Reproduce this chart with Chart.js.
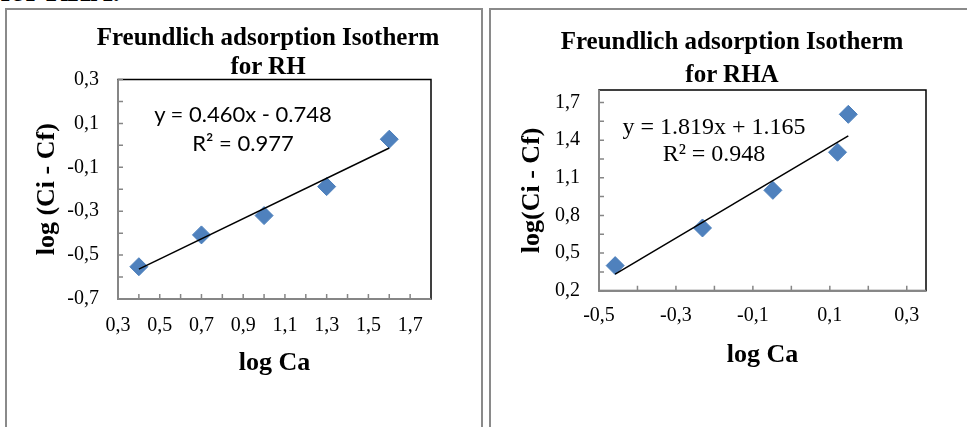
<!DOCTYPE html>
<html><head><meta charset="utf-8">
<script src="https://cdn.jsdelivr.net/npm/chart.js@4.4.1/dist/chart.umd.min.js"></script>
<style>
html,body{margin:0;padding:0;background:#fff;width:967px;height:427px;overflow:hidden;position:relative;}
.panel{position:absolute;border:2px solid #8a8a8a;box-sizing:border-box;}
.title{position:absolute;font-family:"Liberation Serif","Times New Roman",serif;font-weight:bold;font-size:25px;text-align:center;white-space:nowrap;color:#000;}
.eq{position:absolute;text-align:center;white-space:nowrap;color:#000;}
canvas{position:absolute;}
</style></head><body>
<div class="title" style="left:-60px;top:-24px;width:180px;text-align:right;font-size:30px;line-height:30px;">for RHA.</div>
<div class="panel" style="left:5px;top:8px;width:478px;height:440px;"></div>
<div class="panel" style="left:489px;top:8px;width:500px;height:440px;"></div>
<canvas id="c1" width="473" height="417" style="left:8px;top:10px;"></canvas>
<canvas id="c2" width="476" height="417" style="left:491px;top:10px;"></canvas>
<div class="title" style="left:68px;top:22px;width:400px;line-height:29px;">Freundlich adsorption Isotherm<br>for RH</div>
<div class="title" style="left:532px;top:24px;width:400px;line-height:33px;">Freundlich adsorption Isotherm<br>for RHA</div>
<div class="eq" style="left:93px;top:99px;width:300px;font-family:Lato,sans-serif;font-size:22px;line-height:29px;">y = 0.460x - 0.748<br>R² = 0.977</div>
<div class="eq" style="left:564px;top:113px;width:300px;font-family:'Liberation Serif',serif;font-size:24px;line-height:27px;">y = 1.819x + 1.165<br>R² = 0.948</div>
<script>
// ---- RH panel data ----
const rhLogCa = [0.4, 0.7, 1.0, 1.3, 1.6];
const rhLogCiCf = [-0.553, -0.408, -0.32, -0.188, 0.028];
const rhTrendX = [0.4, 1.6];
const rhTrendY = [-0.564, -0.012];
const rhXTicks = [0.3, 0.5, 0.7, 0.9, 1.1, 1.3, 1.5, 1.7];
const rhXTickLabels = ['0,3', '0,5', '0,7', '0,9', '1,1', '1,3', '1,5', '1,7'];
const rhXMinorTicks = [0.4, 0.6, 0.8, 1.0, 1.2, 1.4, 1.6];
const rhYTicks = [-0.7, -0.5, -0.3, -0.1, 0.1, 0.3];
const rhYTickLabels = ['-0,7', '-0,5', '-0,3', '-0,1', '0,1', '0,3'];
const rhYMinorTicks = [-0.6, -0.4, -0.2, 0.0, 0.2];

// ---- RHA panel data ----
const rhaLogCa = [-0.458, -0.231, -0.048, 0.12, 0.148];
const rhaLogCiCf = [0.4, 0.7, 1.0, 1.304, 1.606];
const rhaTrendX = [-0.458, 0.148];
const rhaTrendY = [0.332, 1.434];
const rhaXTicks = [-0.5, -0.3, -0.1, 0.1, 0.3];
const rhaXTickLabels = ['-0,5', '-0,3', '-0,1', '0,1', '0,3'];
const rhaXMinorTicks = [-0.4, -0.2, 0.0, 0.2];
const rhaYTicks = [0.2, 0.5, 0.8, 1.1, 1.4, 1.7];
const rhaYTickLabels = ['0,2', '0,5', '0,8', '1,1', '1,4', '1,7'];
const rhaYMinorTicks = [0.35, 0.65, 0.95, 1.25, 1.55];

Chart.defaults.font.family = "'Liberation Serif', 'Times New Roman', serif";
Chart.defaults.color = '#000';

const framePlugin = {
  id: 'frame',
  beforeDatasetsDraw(chart, args, o) {
    const {ctx, chartArea: a} = chart;
    const xs = chart.scales.x, ys = chart.scales.y;
    ctx.save();
    ctx.strokeStyle = '#000';
    ctx.lineWidth = 1.5;
    ctx.strokeRect(a.left, a.top, a.right - a.left, a.bottom - a.top);
    ctx.strokeStyle = '#868686';
    ctx.lineWidth = 2;
    ctx.beginPath();
    ctx.moveTo(a.left, a.top);
    ctx.lineTo(a.left, a.bottom);
    ctx.lineTo(a.right, a.bottom);
    ctx.stroke();
    ctx.lineWidth = 1.5;
    ctx.beginPath();
    const tl = 5;
    for (const v of o.xTicks.concat(o.xMinor)) {
      const px = xs.getPixelForValue(v);
      ctx.moveTo(px, a.bottom); ctx.lineTo(px, a.bottom - tl);
    }
    for (const v of o.yTicks.concat(o.yMinor)) {
      const py = ys.getPixelForValue(v);
      ctx.moveTo(a.left, py); ctx.lineTo(a.left + tl, py);
    }
    ctx.stroke();
    ctx.restore();
  }
};

function labelFor(ticks, labels) {
  return (v) => {
    const i = ticks.findIndex(t => Math.abs(t - v) < 1e-9);
    return i >= 0 ? labels[i] : '';
  };
}

function makeChart(id, c) {
  return new Chart(document.getElementById(id), {
    type: 'scatter',
    data: {
      datasets: [
        {
          label: 'trend',
          data: c.trendX.map((x, i) => ({x, y: c.trendY[i]})),
          showLine: true,
          borderColor: '#000',
          borderWidth: 1.5,
          pointRadius: 0,
          fill: false
        },
        {
          label: 'data',
          data: c.x.map((x, i) => ({x, y: c.y[i]})),
          pointStyle: 'rectRot',
          pointRadius: 9,
          backgroundColor: '#4F81BD',
          borderColor: '#4A7EBB',
          borderWidth: 1
        }
      ]
    },
    options: {
      responsive: false,
      devicePixelRatio: 1,
      animation: false,
      events: [],
      layout: {padding: c.padding},
      plugins: {
        legend: {display: false},
        tooltip: {enabled: false},
        title: {display: false},
        frame: {xTicks: c.xTicks, xMinor: c.xMinor, yTicks: c.yTicks, yMinor: c.yMinor}
      },
      scales: {
        x: {
          type: 'linear', position: 'bottom', min: c.xMin, max: c.xMax,
          grid: {display: false, drawTicks: false},
          border: {display: false},
          afterBuildTicks: s => { s.ticks = c.xTicks.map(v => ({value: v})); },
          afterFit: s => { s.height = c.xHeight; },
          ticks: {
            autoSkip: false, maxRotation: 0, padding: c.xTickPad,
            font: {size: 20}, color: '#000',
            callback: labelFor(c.xTicks, c.xLabels)
          },
          title: {
            display: true, text: 'log Ca', color: '#000',
            font: {size: 26, weight: 'bold'},
            padding: {top: 0, bottom: c.xTitlePad}
          }
        },
        y: {
          type: 'linear', position: 'left', min: c.yMin, max: c.yMax,
          grid: {display: false, drawTicks: false},
          border: {display: false},
          afterBuildTicks: s => { s.ticks = c.yTicks.map(v => ({value: v})); },
          afterFit: s => { s.width = c.yWidth; },
          ticks: {
            autoSkip: false, padding: 19,
            font: {size: 20}, color: '#000',
            callback: labelFor(c.yTicks, c.yLabels)
          },
          title: {
            display: true, text: c.yTitle, color: '#000',
            font: {size: 26, weight: 'bold'},
            padding: {top: c.yTitlePad, bottom: 0}
          }
        }
      }
    },
    plugins: [framePlugin]
  });
}

makeChart('c1', {
  x: rhLogCa, y: rhLogCiCf, trendX: rhTrendX, trendY: rhTrendY,
  xTicks: rhXTicks, xLabels: rhXTickLabels, xMinor: rhXMinorTicks,
  yTicks: rhYTicks, yLabels: rhYTickLabels, yMinor: rhYMinorTicks,
  xMin: 0.3, xMax: 1.8, yMin: -0.7, yMax: 0.3,
  padding: {left: 0, top: 69.5, right: 50, bottom: 48},
  xHeight: 80, xTickPad: 15, xTitlePad: 0,
  yWidth: 110, yTitlePad: 23.4, yTitle: 'log (Ci - Cf)'
});

makeChart('c2', {
  x: rhaLogCa, y: rhaLogCiCf, trendX: rhaTrendX, trendY: rhaTrendY,
  xTicks: rhaXTicks, xLabels: rhaXTickLabels, xMinor: rhaXMinorTicks,
  yTicks: rhaYTicks, yLabels: rhaYTickLabels, yMinor: rhaYMinorTicks,
  xMin: -0.5, xMax: 0.35, yMin: 0.2, yMax: 1.8,
  padding: {left: 0, top: 80, right: 41, bottom: 56.3},
  xHeight: 80, xTickPad: 13, xTitlePad: 0,
  yWidth: 108, yTitlePad: 25.4, yTitle: 'log(Ci - Cf)'
});
</script>
</body></html>
